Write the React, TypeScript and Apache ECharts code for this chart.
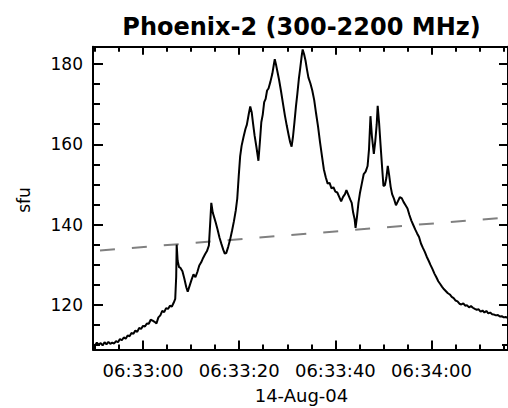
import React, { useEffect, useRef } from "react";
import * as echarts from "echarts";

// Phoenix-2 radio flux, seconds relative to 06:33:00 UT
const seconds = [
  -10.4, -10.0, -9.6, -9.2, -8.8, -8.4, -8.0, -7.6, -7.2, -6.8, -6.4, -6.0, -5.6, -5.2, -4.8, -4.4,
  -4.0, -3.6, -3.2, -2.8, -2.4, -2.0, -1.6, -1.2, -0.8, -0.4, 0.0, 0.4, 0.8, 1.2, 1.6, 2.0, 2.4,
  2.8, 3.2, 3.6, 4.0, 4.4, 4.8, 5.2, 5.6, 6.0, 6.4, 6.7, 6.9, 7.0, 7.2, 7.5, 7.8, 8.2, 8.6, 9.0,
  9.3, 9.7, 10.1, 10.5, 10.9, 11.3, 11.7, 12.1, 12.5, 12.9, 13.3, 13.7, 14.0, 14.2, 14.5, 14.8,
  15.1, 15.5, 15.9, 16.3, 16.7, 17.0, 17.3, 17.7, 18.1, 18.5, 18.9, 19.3, 19.6, 19.9, 20.2, 20.5,
  20.9, 21.3, 21.6, 22.0, 22.3, 22.6, 22.9, 23.2, 23.6, 24.0, 24.3, 24.6, 24.9, 25.2, 25.5, 25.8,
  26.1, 26.5, 26.9, 27.2, 27.4, 27.7, 28.0, 28.3, 28.7, 29.1, 29.5, 29.9, 30.3, 30.6, 30.9, 31.2,
  31.5, 31.8, 32.1, 32.4, 32.7, 33.0, 33.2, 33.5, 33.8, 34.1, 34.4, 34.8, 35.2, 35.6, 36.0, 36.4,
  36.8, 37.2, 37.6, 38.0, 38.4, 38.8, 39.2, 39.6, 40.0, 40.4, 40.8, 41.2, 41.6, 42.0, 42.3, 42.7,
  43.1, 43.4, 43.7, 44.0, 44.2, 44.5, 44.8, 45.1, 45.5, 45.9, 46.3, 46.7, 47.0, 47.3, 47.6, 48.0,
  48.3, 48.6, 48.8, 49.1, 49.4, 49.7, 50.0, 50.3, 50.6, 50.9, 51.2, 51.5, 51.8, 52.2, 52.6, 53.0,
  53.4, 53.8, 54.2, 54.6, 55.0, 55.4, 55.8, 56.2, 56.6, 57.0, 57.4, 57.8, 58.2, 58.6, 59.0, 59.4,
  59.8, 60.2, 60.6, 61.0, 61.4, 61.8, 62.2, 62.6, 63.0, 63.4, 63.8, 64.2, 64.6, 65.0, 65.4, 65.8,
  66.2, 66.6, 67.0, 67.4, 67.8, 68.2, 68.6, 69.0, 69.4, 69.8, 70.2, 70.6, 71.0, 71.4, 71.8, 72.2,
  72.6, 73.0, 73.4, 73.8, 74.2, 74.6, 75.0, 75.4, 75.9,
];

const flux = [
  110.2, 109.9, 110.6, 110.1, 110.5, 109.9, 110.7, 110.2, 110.8, 110.3, 110.6, 110.4, 111.0, 110.7,
  111.5, 111.2, 111.9, 111.6, 112.4, 112.2, 113.0, 112.8, 113.6, 113.3, 114.3, 114.0, 114.8, 114.6,
  115.4, 115.3, 116.3, 116.1, 115.8, 115.4, 116.9, 117.4, 118.5, 118.2, 119.2, 119.0, 119.8, 119.6,
  120.6, 121.5, 127.0, 135.0, 131.0, 129.4, 129.2, 128.4, 126.5, 124.4, 123.3, 124.8, 126.3, 127.6,
  126.9, 128.2, 129.8, 130.6, 131.7, 132.6, 133.4, 134.8, 141.0, 145.4, 143.0, 141.8, 140.6, 138.8,
  136.8, 135.2, 133.7, 132.8, 132.9, 134.4, 136.2, 138.4, 140.8, 143.6, 146.5, 152.0, 157.0, 159.6,
  161.8, 163.8, 164.9, 167.6, 169.4, 168.0, 165.0, 162.2, 159.2, 155.9, 160.5, 165.5, 167.4, 170.5,
  171.3, 173.4, 173.9, 175.6, 177.6, 179.8, 181.2, 179.6, 177.8, 176.0, 173.2, 170.2, 167.2, 164.6,
  162.2, 160.5, 159.4, 162.0, 165.6, 169.4, 172.6, 176.2, 179.0, 182.0, 183.6, 182.4, 180.8, 178.6,
  176.6, 175.2, 173.4, 171.0, 167.6, 164.4, 160.6, 157.2, 153.8, 151.8, 150.2, 150.4, 149.0, 149.3,
  148.2, 148.0, 146.9, 145.8, 146.9, 147.6, 148.6, 147.4, 146.2, 145.4, 143.0, 141.4, 139.2, 142.0,
  145.4, 147.8, 150.2, 152.6, 153.2, 154.6, 158.8, 167.0, 162.0, 157.6, 160.8, 165.0, 169.6, 165.2,
  159.8, 154.6, 149.6, 149.8, 151.6, 154.6, 152.2, 149.4, 147.6, 146.4, 144.8, 145.8, 146.8, 146.6,
  145.6, 144.8, 144.0, 142.4, 141.0, 139.9, 138.8, 137.8, 136.9, 135.3, 134.2, 133.2, 132.0, 131.0,
  129.9, 128.9, 127.8, 126.9, 125.9, 125.2, 124.5, 123.9, 123.4, 122.9, 122.6, 122.0, 121.7, 121.1,
  120.9, 120.3, 120.1, 120.4, 119.8, 119.9, 119.4, 119.7, 119.3, 119.0, 118.8, 118.9, 118.3, 118.6,
  118.1, 118.5, 117.9, 118.1, 117.7, 117.6, 117.4, 117.5, 117.1, 117.2, 116.9, 117.0, 116.7,
];

// Pre-flare background level (dashed line), end points
const backgroundSeconds = [-10.4, 75.9];
const backgroundFlux = [133.4, 141.8];

const xMajorTicks = [0, 20, 40, 60];
const xMinorTicks = [-10, -5, 5, 10, 15, 25, 30, 35, 45, 50, 55, 65, 70, 75];
const yMajorTicks = [120, 140, 160, 180];
const yMinorTicks = [110, 115, 125, 130, 135, 145, 150, 155, 165, 170, 175];

const titleText = "Phoenix-2 (300-2200 MHz)";
const dateText = "14-Aug-04";
const unitText = "sfu";
const baseClock = 6 * 3600 + 33 * 60;

const X_MIN = -10.4;
const X_MAX = 75.9;
const Y_MIN = 108.9;
const Y_MAX = 184.3;

const FONT = "DejaVu Sans";

function clockLabel(s: number): string {
  const t = Math.round(baseClock + s);
  const hh = Math.floor(t / 3600);
  const mm = Math.floor((t % 3600) / 60);
  const ss = t % 60;
  const p = (n: number) => String(n).padStart(2, "0");
  return `${p(hh)}:${p(mm)}:${p(ss)}`;
}

function tickAxis(
  kind: "x" | "y",
  position: string,
  ticks: number[],
  length: number,
  showLine: boolean,
  labels: boolean
) {
  const isX = kind === "x";
  return {
    type: "value",
    position,
    min: isX ? X_MIN : Y_MIN,
    max: isX ? X_MAX : Y_MAX,
    axisLine: { show: showLine, onZero: false, lineStyle: { color: "#000", width: 2 } },
    axisTick: {
      show: true,
      inside: true,
      length,
      customValues: ticks,
      lineStyle: { color: "#000", width: 2 },
    },
    axisLabel: labels
      ? {
          show: true,
          customValues: ticks,
          color: "#000",
          fontFamily: FONT,
          fontSize: isX ? 18 : 17,
          margin: isX ? 12 : 10,
          formatter: isX ? (v: number) => clockLabel(v) : (v: number) => String(v),
        }
      : { show: false },
    splitLine: { show: false },
    minorTick: { show: false },
  };
}

export default function App() {
  const ref = useRef<HTMLDivElement>(null);

  useEffect(() => {
    if (!ref.current) return;
    const chart = echarts.init(ref.current, null, { renderer: "svg" });

    const curve = seconds.map((s, i) => [s, flux[i]]);
    const background = backgroundSeconds.map((s, i) => [s, backgroundFlux[i]]);

    chart.setOption({
      animation: false,
      backgroundColor: "#fff",
      grid: { left: 93, top: 46.7, width: 417, height: 302.8, containLabel: false },
      xAxis: [
        tickAxis("x", "bottom", xMajorTicks, 9, true, true),
        tickAxis("x", "bottom", xMinorTicks, 5, false, false),
        tickAxis("x", "top", xMajorTicks, 8, true, false),
        tickAxis("x", "top", xMinorTicks, 5, false, false),
      ],
      yAxis: [
        tickAxis("y", "left", yMajorTicks, 10, true, true),
        tickAxis("y", "left", yMinorTicks, 7, false, false),
        tickAxis("y", "right", yMajorTicks, 9, true, false),
        tickAxis("y", "right", yMinorTicks, 6, false, false),
      ],
      series: [
        {
          type: "line",
          xAxisIndex: 0,
          yAxisIndex: 0,
          data: background,
          showSymbol: false,
          silent: true,
          lineStyle: { color: "#808080", width: 2, type: [15, 17], dashOffset: 25 },
        },
        {
          type: "line",
          xAxisIndex: 0,
          yAxisIndex: 0,
          data: curve,
          showSymbol: false,
          silent: true,
          lineStyle: { color: "#000", width: 2 },
        },
      ],
      graphic: [
        {
          type: "text",
          x: 301.5,
          y: 27,
          style: {
            text: titleText,
            fill: "#000",
            font: `bold 24px ${FONT}`,
            align: "center",
            verticalAlign: "middle",
          },
        },
        {
          type: "text",
          x: 301.5,
          y: 395,
          style: {
            text: dateText,
            fill: "#000",
            font: `18px ${FONT}`,
            align: "center",
            verticalAlign: "middle",
          },
        },
        {
          type: "text",
          x: 24,
          y: 200,
          rotation: Math.PI / 2,
          style: {
            text: unitText,
            fill: "#000",
            font: `17px ${FONT}`,
            align: "center",
            verticalAlign: "middle",
          },
        },
      ],
    });

    return () => chart.dispose();
  }, []);

  return (
    <div
      ref={ref}
      style={{ position: "absolute", left: 0, top: 0, width: 508, height: 408 }}
    />
  );
}
